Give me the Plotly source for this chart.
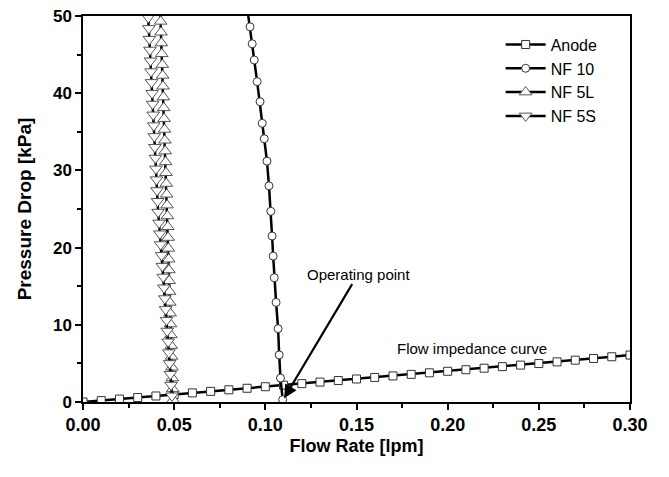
import plotly.graph_objects as go

# ---- data ----
anode_q = [0.00, 0.01, 0.02, 0.03, 0.04, 0.05, 0.06, 0.07, 0.08, 0.09, 0.10,
           0.11, 0.12, 0.13, 0.14, 0.15, 0.16, 0.17, 0.18, 0.19, 0.20,
           0.21, 0.22, 0.23, 0.24, 0.25, 0.26, 0.27, 0.28, 0.29, 0.30]
anode_p = [0.00, 0.18, 0.38, 0.58, 0.78, 0.98, 1.18, 1.38, 1.58, 1.78, 1.98,
           2.18, 2.38, 2.58, 2.78, 2.98, 3.18, 3.38, 3.58, 3.78, 3.98,
           4.18, 4.38, 4.58, 4.78, 4.98, 5.20, 5.42, 5.64, 5.86, 6.08]

nf10_p = [0.3, 3.1, 6.1, 9.5, 12.9, 16.1, 18.9, 21.5, 24.7, 28.0, 31.2, 34.1,
          36.1, 38.9, 41.5, 44.3, 46.4, 48.6, 51.5]
nf10_q = [0.1095, 0.1083, 0.1076, 0.1070, 0.1059, 0.1049, 0.1043, 0.1037,
          0.1030, 0.1020, 0.1009, 0.0994, 0.0983, 0.0971, 0.0955, 0.0939,
          0.0928, 0.0916, 0.0898]

nf5l_p = [0.3, 1.7, 3.1, 4.5, 5.9, 7.3, 8.7, 10.1, 11.5, 12.9, 14.3, 15.7,
          17.1, 18.5, 19.9, 21.3, 22.7, 24.1, 25.5, 26.9, 28.3, 29.7, 31.1,
          32.5, 33.9, 35.3, 36.7, 38.1, 39.5, 40.9, 42.3, 43.7, 45.1, 46.5,
          47.9, 49.3, 51.0]
nf5l_q = [0.0494, 0.0492, 0.0490, 0.0488, 0.0486, 0.0484, 0.0482, 0.0480,
          0.0478, 0.0476, 0.0475, 0.0473, 0.0471, 0.0470, 0.0468, 0.0467,
          0.0465, 0.0463, 0.0461, 0.0459, 0.0457, 0.0455, 0.0453, 0.0451,
          0.0449, 0.0447, 0.0445, 0.0443, 0.0441, 0.0439, 0.0437, 0.0435,
          0.0432, 0.0430, 0.0428, 0.0426, 0.0423]

nf5s_p = [0.8, 2.2, 3.6, 5.0, 6.4, 7.8, 9.2, 10.6, 12.0, 13.4, 14.8, 16.2,
          17.6, 19.0, 20.4, 21.8, 23.2, 24.6, 26.0, 27.4, 28.8, 30.2, 31.6,
          33.0, 34.4, 35.8, 37.2, 38.6, 40.0, 41.4, 42.8, 44.2, 45.6, 47.0,
          48.4, 49.8, 51.5]
nf5s_q = [0.0488, 0.0483, 0.0479, 0.0475, 0.0471, 0.0467, 0.0462, 0.0458,
          0.0453, 0.0449, 0.0444, 0.0440, 0.0435, 0.0431, 0.0426, 0.0422,
          0.0417, 0.0412, 0.0409, 0.0406, 0.0403, 0.0400, 0.0397, 0.0394,
          0.0391, 0.0388, 0.0385, 0.0382, 0.0379, 0.0376, 0.0373, 0.0370,
          0.0367, 0.0364, 0.0361, 0.0358, 0.0354]

x_ticks = [0.00, 0.05, 0.10, 0.15, 0.20, 0.25, 0.30]
x_tick_labels = ["0.00", "0.05", "0.10", "0.15", "0.20", "0.25", "0.30"]
y_ticks = [0, 10, 20, 30, 40, 50]

FONT = "Liberation Sans, Arial, sans-serif"

fig = go.Figure()

fig.add_trace(go.Scatter(
    x=anode_q, y=anode_p, mode="lines+markers", name="Anode",
    line=dict(color="black", width=2.5),
    marker=dict(symbol="square", size=8, color="white",
                line=dict(color="#333333", width=1))))
fig.add_trace(go.Scatter(
    x=nf10_q, y=nf10_p, mode="lines+markers", name="NF 10",
    line=dict(color="black", width=2.5),
    marker=dict(symbol="circle", size=8, color="white",
                line=dict(color="#333333", width=1))))
fig.add_trace(go.Scatter(
    x=nf5l_q, y=nf5l_p, mode="lines+markers", name="NF 5L",
    line=dict(color="black", width=2.5),
    marker=dict(symbol="triangle-up", size=11, color="white",
                line=dict(color="#555555", width=1))))
fig.add_trace(go.Scatter(
    x=nf5s_q, y=nf5s_p, mode="lines+markers", name="NF 5S",
    line=dict(color="black", width=2.5),
    marker=dict(symbol="triangle-down", size=11, color="white",
                line=dict(color="#555555", width=1))))

fig.add_annotation(
    x=0.1103, y=0.5, xref="x", yref="y", text="Operating point",
    showarrow=True, ax=74, ay=-124, arrowhead=2, arrowsize=1.2,
    arrowwidth=2.2, arrowcolor="black",
    font=dict(family=FONT, size=15, color="black"))
fig.add_annotation(
    x=0.2134, y=6.96, xref="x", yref="y", text="Flow impedance curve",
    showarrow=False, font=dict(family=FONT, size=15, color="black"))

fig.update_layout(
    width=661, height=469,
    margin=dict(l=75, r=39, t=8, b=75),
    paper_bgcolor="white", plot_bgcolor="white",
    font=dict(family=FONT, color="black"),
    showlegend=True,
    legend=dict(x=0.95, y=0.97, xanchor="right", yanchor="top",
                bgcolor="rgba(0,0,0,0)", borderwidth=0,
                font=dict(family=FONT, size=16, color="black"),
                tracegroupgap=0, itemwidth=40),
    xaxis=dict(range=[0, 0.30], tickvals=x_ticks, ticktext=x_tick_labels,
               showgrid=False, zeroline=False, automargin=False,
               showline=True, linecolor="black", linewidth=1.5, mirror=True,
               ticks="outside", ticklen=6, tickwidth=1.5, tickcolor="black",
               minor=dict(ticks="outside", ticklen=4, tickwidth=1.5,
                          tickcolor="black", dtick=0.025, showgrid=False),
               ticklabeloverflow="allow",
               tickfont=dict(family=FONT, size=18, color="black", weight="bold"),
               title=dict(text="Flow Rate [lpm]", standoff=5,
                          font=dict(family=FONT, size=18, color="black",
                                    weight="bold"))),
    yaxis=dict(range=[0, 50], tickvals=y_ticks,
               showgrid=False, zeroline=False, automargin=False,
               showline=True, linecolor="black", linewidth=1.5, mirror=True,
               ticks="outside", ticklen=6, tickwidth=1.5, tickcolor="black",
               minor=dict(ticks="outside", ticklen=4, tickwidth=1.5,
                          tickcolor="black", dtick=5, showgrid=False),
               ticklabeloverflow="allow",
               tickfont=dict(family=FONT, size=17, color="black", weight="bold"),
               title=dict(text="Pressure Drop [kPa]", standoff=16,
                          font=dict(family=FONT, size=19, color="black",
                                    weight="bold"))),
)

fig.write_html("out.html")
